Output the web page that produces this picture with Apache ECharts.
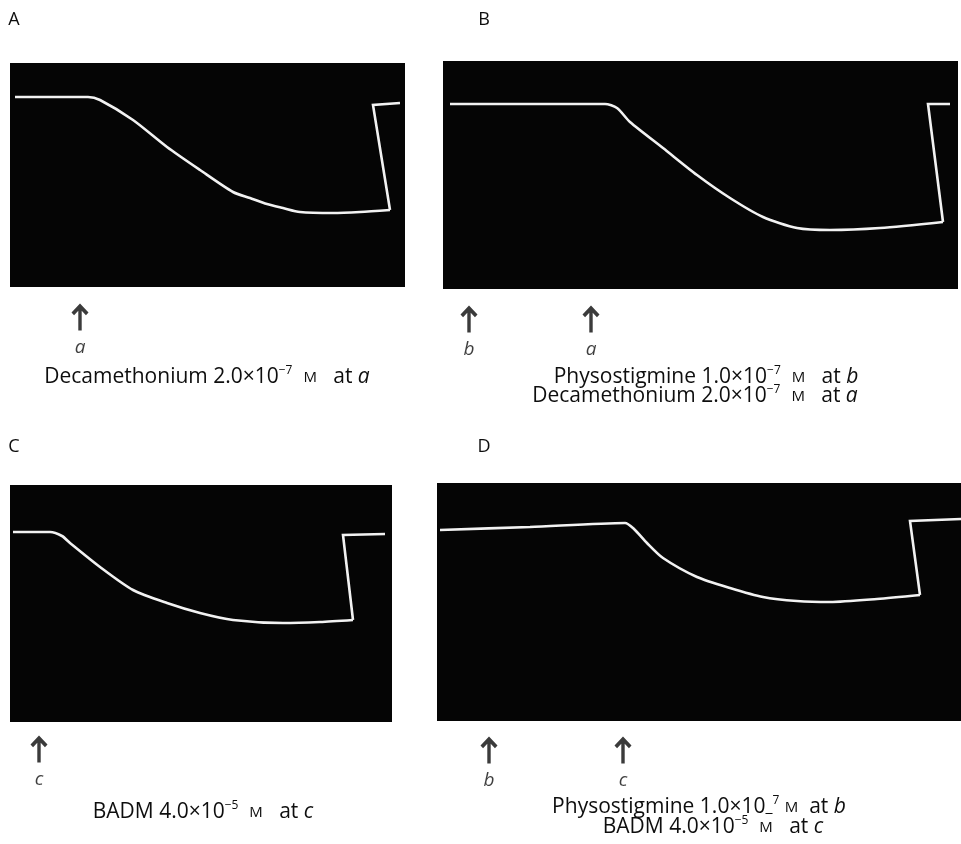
<!DOCTYPE html>
<html><head><meta charset="utf-8">
<script src="https://cdn.jsdelivr.net/npm/echarts@6/dist/echarts.min.js"></script>
<style>html,body{margin:0;padding:0;background:#fff}#c{width:961px;height:844px}</style>
</head><body><div id="c"></div>
<script>
// ---- data (time units, tension units) ----
const panelLetters = ['A', 'B', 'C', 'D'];

const curveA = [[5,190],[45,190],[78,190],[90,187],[123,167],[157,140],[190,117],[223,95],[240,89],[257,83],[273,79],[290,75],[323,74],[350,75],[380,77]];
const stepA  = [[380,77],[363,182],[390,184]];
const arrowTimesA  = [70];
const arrowLabelsA = ['a'];

const curveB = [[7,185],[85,185],[162,185],[174,181],[187,167],[220,141],[254,114],[287,91],[320,72],[354,61],[387,59],[437,61],[500,67]];
const stepB  = [[500,67],[485,185],[507,185]];
const arrowTimesB  = [26, 148];
const arrowLabelsB = ['b', 'a'];

const curveC = [[3,190],[25,190],[40,190],[52,186],[60,179],[90,155],[123,132],[157,119],[190,109],[223,102],[273,99],[310,100],[343,102]];
const stepC  = [[343,102],[333,187],[375,188]];
const arrowTimesC  = [29];
const arrowLabelsC = ['c'];

const curveD = [[3,191],[93,194],[188,198],[197,192],[210,178],[226,163],[260,144],[293,133],[326,124],[360,120],[393,119],[440,122],[483,126]];
const stepD  = [[483,126],[473,200],[524,202]];
const arrowTimesD  = [52, 186];
const arrowLabelsD = ['b', 'c'];

const captionA = ['{n|Decamethonium 2.0×10}{sup|−7}{n|  }{sc|M}{n|   at }{i|a}'];
const captionB = ['{n|Physostigmine 1.0×10}{sup|−7}{n|  }{sc|M}{n|   at }{i|b}',
                  '{n|Decamethonium 2.0×10}{sup|−7}{n|  }{sc|M}{n|   at }{i|a}'];
const captionC = ['{n|BADM 4.0×10}{sup|−5}{n|  }{sc|M}{n|   at }{i|c}'];
const captionD = ['{n|Physostigmine 1.0×10}{und|_}{sup|7}{n| }{sc|M}{n|  at }{i|b}',
                  '{n|BADM 4.0×10}{sup|−5}{n|  }{sc|M}{n|   at }{i|c}'];

// ---- layout ----
const panels = [
  {grid:{left:10, top:63, width:395, height:224}, xMax:395, yMax:224, curve:curveA, step:stepA, at:arrowTimesA, al:arrowLabelsA, arrowY:-30,
   letter:[14,20], caption:captionA, capPos:[[207,377]]},
  {grid:{left:443, top:61, width:515, height:228}, xMax:515, yMax:228, curve:curveB, step:stepB, at:arrowTimesB, al:arrowLabelsB, arrowY:-30,
   letter:[484,20], caption:captionB, capPos:[[706,377],[695,396]]},
  {grid:{left:10, top:485, width:382, height:237}, xMax:382, yMax:237, curve:curveC, step:stepC, at:arrowTimesC, al:arrowLabelsC, arrowY:-27,
   letter:[14,447], caption:captionC, capPos:[[203,812]]},
  {grid:{left:437, top:483, width:524, height:238}, xMax:524, yMax:238, curve:curveD, step:stepD, at:arrowTimesD, al:arrowLabelsD, arrowY:-29,
   letter:[484,447], caption:captionD, capPos:[[699,807],[713,827]]}
];

const FONT = '"Open Sans", "Noto Sans", "DejaVu Sans", sans-serif';
const INK = '#0e0e0e';
const richStyles = {
  n:   {fill: INK, fontSize: 21, fontFamily: FONT, lineHeight: 24, verticalAlign: 'middle'},
  sup: {fill: INK, fontSize: 12, fontFamily: FONT, lineHeight: 12, verticalAlign: 'top'},
  und: {fill: INK, fontSize: 16, fontFamily: FONT, lineHeight: 24, verticalAlign: 'middle'},
  sc:  {fill: INK, fontSize: 15, fontFamily: FONT, lineHeight: 16, verticalAlign: 'middle', padding: [2,0,0,0]},
  i:   {fill: INK, fontSize: 21, fontFamily: FONT, fontStyle: 'italic', lineHeight: 24, verticalAlign: 'middle'}
};
const arrowPath = 'path://M10,0 L20,10 L17,13 L12,8 L12,30 L8,30 L8,8 L3,13 L0,10 Z';

const grid = [], xAxis = [], yAxis = [], series = [], graphic = [];
panels.forEach((p, i) => {
  grid.push(Object.assign({show: true, backgroundColor: '#050505', borderWidth: 0, containLabel: false}, p.grid));
  xAxis.push({type: 'value', gridIndex: i, min: 0, max: p.xMax, show: false});
  yAxis.push({type: 'value', gridIndex: i, min: 0, max: p.yMax, show: false});
  const lineStyle = {color: '#f2f2f2', width: 2.6};
  series.push({type: 'line', xAxisIndex: i, yAxisIndex: i, data: p.curve, symbol: 'none', smooth: 0.25, lineStyle, silent: true, z: 3});
  series.push({type: 'line', xAxisIndex: i, yAxisIndex: i, data: p.step, symbol: 'none', lineStyle: Object.assign({join: 'miter'}, lineStyle), silent: true, z: 3});
  series.push({
    type: 'scatter', xAxisIndex: i, yAxisIndex: i, clip: false, silent: true,
    symbol: arrowPath, symbolSize: [17, 27], itemStyle: {color: '#0a0a0a'},
    data: p.at.map((t, k) => ({value: [t, p.arrowY], label: {formatter: p.al[k]}})),
    label: {show: true, position: 'bottom', distance: 8, color: INK, fontSize: 19, fontStyle: 'italic', fontFamily: FONT}
  });
  graphic.push({type: 'text', x: p.letter[0], y: p.letter[1],
    style: {text: panelLetters[i], fill: INK, fontSize: 18, fontFamily: FONT, align: 'center', verticalAlign: 'middle'}});
  p.caption.forEach((c, k) => {
    graphic.push({type: 'text', x: p.capPos[k][0], y: p.capPos[k][1],
      style: {text: c, rich: richStyles, align: 'center', verticalAlign: 'middle', fill: INK, fontSize: 21, fontFamily: FONT}});
  });
});

const chart = echarts.init(document.getElementById('c'), null, {renderer: 'canvas'});
chart.setOption({backgroundColor: '#ffffff', animation: false, grid, xAxis, yAxis, series, graphic});
</script>
</body></html>
